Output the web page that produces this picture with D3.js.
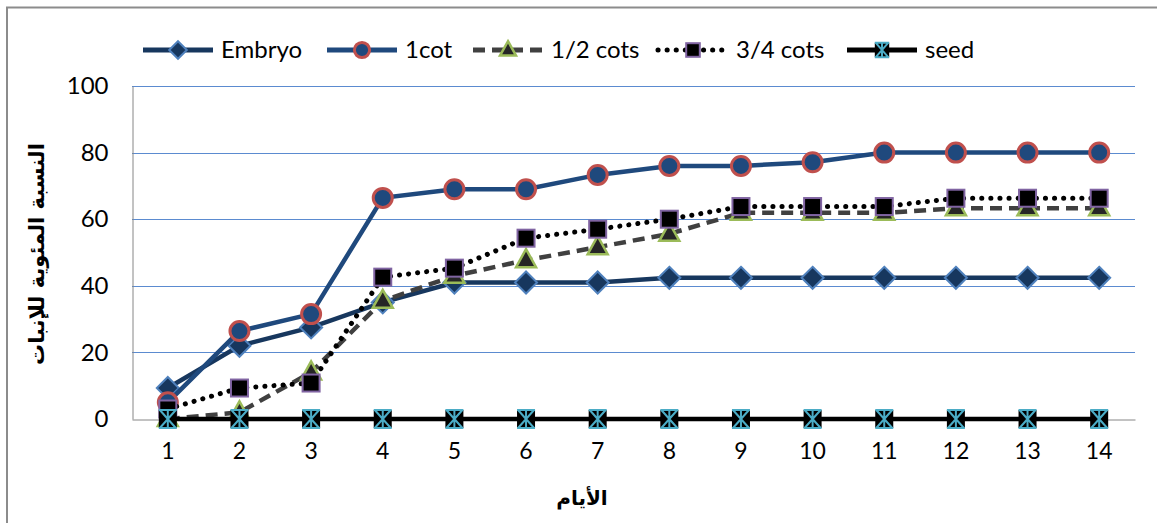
<!DOCTYPE html>
<html><head><meta charset="utf-8">
<script src="https://cdn.jsdelivr.net/npm/d3@7"></script>
<style>body{margin:0;background:#fff}svg{display:block}</style>
</head><body><svg id="c" width="1157" height="523"></svg>
<script>
const days = [1,2,3,4,5,6,7,8,9,10,11,12,13,14];
const embryo = [9.3,22,27.5,35,41,41,41,42.4,42.4,42.4,42.4,42.4,42.4,42.4];
const cot1 = [5,26.4,31.5,66.4,69,69,73.3,76,76,77.1,80,80,80,80];
const cots12 = [0,2,14,35.5,43,47.7,51.6,55.6,61.9,61.9,61.9,63.3,63.3,63.3];
const cots34 = [3,9.3,10.8,42.6,45.3,54.3,57,60,63.8,63.8,63.8,66.3,66.3,66.3];
const seed = [0,0,0,0,0,0,0,0,0,0,0,0,0,0];
const yTicks = [0,20,40,60,80,100];
const seriesNames = ["Embryo","1cot","1/2 cots","3/4 cots","seed"];
const yTitle = "النسبة المئوية للإنبات";
const xTitle = "الأيام";

const svg = d3.select("#c");
const font = "Lato, 'Open Sans', sans-serif";
const L=132, R=1135, T=86, B=419;
const x = d3.scaleBand().domain(days).range([L,R]);
const xc = d => x(d)+x.bandwidth()/2;
const y = d3.scaleLinear().domain([0,100]).range([B,T]);

// outer frame (top and left edges visible)
svg.append("path").attr("d","M7,530L7,7.5L1160,7.5").attr("fill","none")
  .attr("stroke","#8c8c8c").attr("stroke-width",2);

// gridlines
svg.append("g").selectAll("line").data(yTicks.filter(v=>v>0)).join("line")
  .attr("x1",L).attr("x2",R).attr("y1",d=>Math.round(y(d))+0.5).attr("y2",d=>Math.round(y(d))+0.5)
  .attr("stroke","#5b8bd0").attr("stroke-width",1.2);

// axes
const ya = svg.append("g").attr("transform",`translate(${L+0.5},0)`)
  .call(d3.axisLeft(y).tickValues(yTicks).tickSize(0).tickPadding(24));
ya.select(".domain").attr("stroke","#868686");
ya.selectAll("text").attr("font-family",font).attr("font-size",24).attr("fill","#000");
const xa = svg.append("g").attr("transform",`translate(0,${Math.round(B)+0.5})`)
  .call(d3.axisBottom(x).tickSize(0).tickPadding(23));
xa.select(".domain").attr("stroke","#868686");
xa.selectAll("text").attr("font-family",font).attr("font-size",23).attr("fill","#000");

// titles
svg.append("text").attr("transform","translate(44,254) rotate(-90)")
  .attr("text-anchor","middle").attr("font-family","'DejaVu Sans', sans-serif")
  .attr("font-weight","bold").attr("font-size",21).attr("direction","rtl").text(yTitle);
svg.append("text").attr("x",582).attr("y",505).attr("text-anchor","middle")
  .attr("font-family","'DejaVu Sans', sans-serif").attr("font-weight","bold")
  .attr("font-size",20).attr("direction","rtl").text(xTitle);

const styles = [
  {data:embryo, line:"#17375e", dash:null, marker:"diamond", fill:"#17375e", stroke:"#4f81bd"},
  {data:cot1, line:"#1f497d", dash:null, marker:"circle", fill:"#1f497d", stroke:"#c0504d"},
  {data:cots12, line:"#404040", dash:"12,7", marker:"triangle", fill:"#262626", stroke:"#9bbb59"},
  {data:cots34, line:"#000", dash:"0.1,9", marker:"square", fill:"#000", stroke:"#8064a2"},
  {data:seed, line:"#000", dash:null, marker:"star", fill:"#000", stroke:"#4bacc6"}
];

function drawMarker(g, type, fill, stroke, k){
  k = k || 1;
  if(type==="diamond"){
    const r=11*k;
    g.append("path").attr("d",`M0,${-r}L${r},0L0,${r}L${-r},0Z`)
      .attr("fill",fill).attr("stroke",stroke).attr("stroke-width",2);
  } else if(type==="circle"){
    g.append("circle").attr("r",9.5*k).attr("fill",fill).attr("stroke",stroke).attr("stroke-width",3);
  } else if(type==="triangle"){
    g.append("path").attr("d",`M0,${-11*k}L${10*k},${7*k}L${-10*k},${7*k}Z`)
      .attr("fill",fill).attr("stroke",stroke).attr("stroke-width",2.5);
  } else if(type==="square"){
    const h=8.5*k;
    g.append("rect").attr("x",-h).attr("y",-h).attr("width",2*h).attr("height",2*h)
      .attr("fill",fill).attr("stroke",stroke).attr("stroke-width",2);
  } else if(type==="star"){
    const h=9*k;
    g.append("rect").attr("x",-h).attr("y",-h).attr("width",2*h).attr("height",2*h).attr("fill",fill);
    g.append("path").attr("d",`M${-h+1},${-h}L${h-1},${h}M${h-1},${-h}L${-h+1},${h}M0,${-h}L0,${h}M${-h},${-h}L${h},${-h}M${-h},${h}L${h},${h}`)
      .attr("stroke",stroke).attr("stroke-width",2).attr("fill","none");
  }
}

const lineGen = d3.line().x((d,i)=>xc(days[i])).y(d=>y(d));
styles.forEach(s=>{
  const dotted = s.dash==="0.1,9";
  svg.append("path").datum(s.data).attr("d",lineGen).attr("fill","none")
    .attr("stroke",s.line).attr("stroke-width",dotted?5:4.5)
    .attr("stroke-linecap",dotted?"round":"butt")
    .attr("stroke-dasharray",s.dash);
  s.data.forEach((v,i)=>{
    const g = svg.append("g").attr("transform",`translate(${xc(days[i])},${y(v)})`);
    drawMarker(g,s.marker,s.fill,s.stroke,1);
  });
});

// legend
const legX = [143,327,473,658,847];
styles.forEach((s,i)=>{
  const lx = legX[i], ly = 50;
  const dotted = s.dash==="0.1,9";
  svg.append("line").attr("x1",lx).attr("x2",lx+70).attr("y1",ly).attr("y2",ly)
    .attr("stroke",s.line).attr("stroke-width",5)
    .attr("stroke-linecap",dotted?"round":"butt").attr("stroke-dasharray",s.dash);
  const g = svg.append("g").attr("transform",`translate(${lx+35},${ly})`);
  drawMarker(g,s.marker,s.fill,s.stroke,0.8);
  svg.append("text").attr("x",lx+78).attr("y",ly).attr("dy","0.35em")
    .attr("font-family",font).attr("font-size",24).text(seriesNames[i]);
});
</script></body></html>
